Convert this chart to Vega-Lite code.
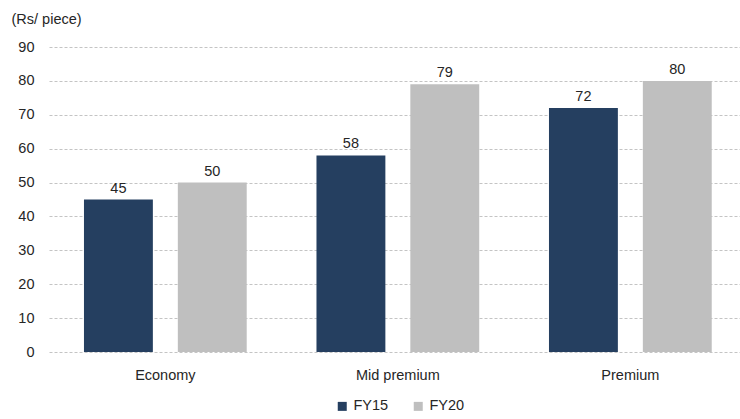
{
  "$schema": "https://vega.github.io/schema/vega-lite/v6.json",
  "autosize": "none",
  "width": 691,
  "height": 305,
  "padding": {"left": 49, "top": 47, "right": 0, "bottom": 67},
  "background": "white",
  "config": {
    "font": "Liberation Sans",
    "view": {"stroke": null},
    "axis": {"labelFont": "Liberation Sans", "labelColor": "#262626", "labelFontSize": 14.5}
  },
  "data": {
    "values": [
      {"segment": "Economy", "year": "FY15", "price": 45},
      {"segment": "Economy", "year": "FY20", "price": 50},
      {"segment": "Mid premium", "year": "FY15", "price": 58},
      {"segment": "Mid premium", "year": "FY20", "price": 79},
      {"segment": "Premium", "year": "FY15", "price": 72},
      {"segment": "Premium", "year": "FY20", "price": 80}
    ]
  },
  "encoding": {
    "x": {
      "field": "segment",
      "type": "nominal",
      "sort": ["Economy", "Mid premium", "Premium"],
      "scale": {"paddingInner": 0.3, "paddingOuter": 0.136, "align": 0.553},
      "axis": {
        "title": null,
        "labelAngle": 0,
        "domain": false,
        "ticks": false,
        "labelPadding": 16,
        "grid": false
      }
    },
    "xOffset": {
      "field": "year",
      "type": "nominal",
      "scale": {"paddingInner": 0.266, "paddingOuter": 0}
    },
    "y": {
      "field": "price",
      "type": "quantitative",
      "scale": {"domain": [0, 90], "nice": false},
      "axis": {
        "values": [0, 10, 20, 30, 40, 50, 60, 70, 80, 90],
        "title": "(Rs/ piece)",
        "titleAngle": 0,
        "titleX": -38,
        "titleY": -28,
        "titleAlign": "left",
        "titleBaseline": "middle",
        "titleFont": "Liberation Sans",
        "titleFontSize": 14.5,
        "titleFontWeight": "normal",
        "titleColor": "#262626",
        "domain": false,
        "ticks": false,
        "labelPadding": 15,
        "grid": true,
        "gridColor": "#c4c4c4",
        "gridWidth": 1,
        "gridDash": [3, 2]
      }
    }
  },
  "layer": [
    {
      "mark": {"type": "bar"},
      "encoding": {
        "color": {
          "field": "year",
          "type": "nominal",
          "scale": {"domain": ["FY15", "FY20"], "range": ["#253f60", "#bfbfbf"]},
          "legend": {
            "title": null,
            "orient": "none",
            "direction": "horizontal",
            "legendX": 286,
            "legendY": 352,
            "symbolType": "square",
            "symbolSize": 81,
            "symbolStrokeWidth": 0,
            "labelFont": "Liberation Sans",
            "labelFontSize": 14.5,
            "labelColor": "#262626",
            "labelOffset": 4,
            "columnPadding": 22
          }
        }
      }
    },
    {
      "mark": {
        "type": "text",
        "baseline": "bottom",
        "dy": -4,
        "fontSize": 14.5,
        "color": "#262626",
        "font": "Liberation Sans"
      },
      "encoding": {
        "text": {"field": "price", "type": "quantitative"}
      }
    }
  ]
}
